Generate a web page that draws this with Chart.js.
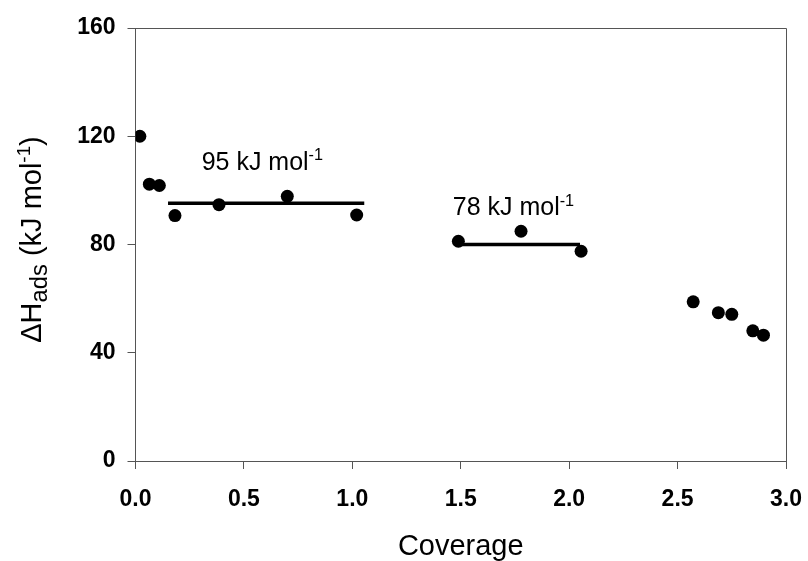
<!DOCTYPE html>
<html>
<head>
<meta charset="utf-8">
<script src="https://cdn.jsdelivr.net/npm/chart.js@4.4.1/dist/chart.umd.min.js"></script>
<style>
  html, body { margin:0; padding:0; background:#fff; }
  #wrap { width:808px; height:561px; }
</style>
</head>
<body>
<div id="wrap"><canvas id="graf"></canvas></div>
<script>
// Dados
const coverage = [0.02, 0.064, 0.11, 0.182, 0.385, 0.70, 1.02, 1.489, 1.778, 2.055, 2.572, 2.688, 2.75, 2.847, 2.896];
const dHads    = [120, 102.3, 101.8, 90.7, 94.7, 97.8, 90.9, 81.2, 84.9, 77.5, 58.8, 54.8, 54.2, 48.1, 46.5];

// patamares (linhas horizontais)
const fitStart = [0.15, 1.49];
const fitEnd   = [1.055, 2.05];
const fitValue = [95.2, 80.0];
const fitLabel = ['95 kJ mol', '78 kJ mol'];
const labelAt  = [[0.305, 107.7], [1.463, 90.8]];

const xTicks = [0, 0.5, 1.0, 1.5, 2.0, 2.5, 3.0];
const yTicks = [0, 40, 80, 120, 160];

const FONTE = "'Liberation Sans', Arial, sans-serif";
const cinza = '#555';

const pontos = coverage.map((c,i)=>({x:c, y:dHads[i]}));
const linhas = fitStart.map((s,i)=>({
  type:'line',
  data:[{x:s,y:fitValue[i]},{x:fitEnd[i],y:fitValue[i]}],
  borderColor:'#000',
  borderWidth:3.5,
  pointRadius:0,
  showLine:true,
  order:2
}));

// texto com sub/sobrescrito
function textoRico(ctx, partes, x, y, tam) {
  let cx = x;
  partes.forEach(p=>{
    const s = tam*(p.esc||1);
    ctx.font = `${s}px ${FONTE}`;
    ctx.fillText(p.t, cx, y + tam*(p.dy||0));
    cx += ctx.measureText(p.t).width;
  });
  return cx - x;
}
function larguraRica(ctx, partes, tam) {
  let w = 0;
  partes.forEach(p=>{ ctx.font = `${tam*(p.esc||1)}px ${FONTE}`; w += ctx.measureText(p.t).width; });
  return w;
}

const decor = {
  id:'decor',
  afterDraw(chart){
    const {ctx, chartArea:a, scales:{x,y}} = chart;
    ctx.save();
    // moldura superior e direita
    ctx.strokeStyle = cinza; ctx.lineWidth = 1;
    ctx.beginPath();
    ctx.moveTo(a.left, a.top+0.5); ctx.lineTo(a.right+0.5, a.top+0.5); ctx.lineTo(a.right+0.5, a.bottom);
    ctx.stroke();

    ctx.fillStyle = '#000';
    ctx.textBaseline = 'alphabetic';
    ctx.textAlign = 'left';
    // rótulos dos patamares
    fitLabel.forEach((t,i)=>{
      const px = x.getPixelForValue(labelAt[i][0]);
      const py = y.getPixelForValue(labelAt[i][1]);
      textoRico(ctx, [{t:t},{t:'-1', esc:0.65, dy:-0.38}], px, py, 25);
    });

    // título do eixo y
    const partes = [{t:'\u0394H'},{t:'ads', esc:0.82, dy:0.22},{t:' (kJ mol'},{t:'-1', esc:0.65, dy:-0.38},{t:')'}];
    const tam = 29;
    const w = larguraRica(ctx, partes, tam);
    ctx.translate(41, (a.top+a.bottom)/2 - 5);
    ctx.rotate(-Math.PI/2);
    textoRico(ctx, partes, -w/2, 0, tam);
    ctx.restore();
  }
};

new Chart(document.getElementById('graf').getContext('2d'), {
  type:'scatter',
  data:{
    datasets:[
      { data:pontos, backgroundColor:'#000', borderColor:'#000', pointRadius:6.5, pointBorderWidth:0, order:1 },
      ...linhas
    ]
  },
  options:{
    responsive:true,
    maintainAspectRatio:false,
    animation:false,
    events:[],
    layout:{ padding:{ top:28, right:22, left:0, bottom:0 } },
    plugins:{ legend:{display:false}, tooltip:{enabled:false} },
    scales:{
      x:{
        type:'linear', min:0, max:3,
        afterBuildTicks: s => { s.ticks = xTicks.map(v=>({value:v})); },
        afterFit: s => { s.height = 100; s.paddingLeft = 0; s.paddingRight = 0; },
        ticks:{ color:'#000', font:{family:FONTE, size:23, weight:'bold'}, padding:17, maxRotation:0,
                callback:v=>Number(v).toFixed(1) },
        grid:{ drawOnChartArea:false, drawTicks:true, tickLength:8, color:cinza },
        border:{ display:true, color:cinza, width:1 },
        title:{ display:true, text:'Coverage', color:'#000', font:{family:FONTE, size:29}, padding:{top:0, bottom:-3} }
      },
      y:{
        type:'linear', min:0, max:160,
        afterBuildTicks: s => { s.ticks = yTicks.map(v=>({value:v})); },
        afterFit: s => { s.width = 135.5; s.paddingTop = 0; s.paddingBottom = 0; },
        ticks:{ color:'#000', font:{family:FONTE, size:23, weight:'bold'}, padding:12 },
        grid:{ drawOnChartArea:false, drawTicks:true, tickLength:8, color:cinza },
        border:{ display:true, color:cinza, width:1 }
      }
    }
  },
  plugins:[decor]
});
</script>
</body>
</html>
